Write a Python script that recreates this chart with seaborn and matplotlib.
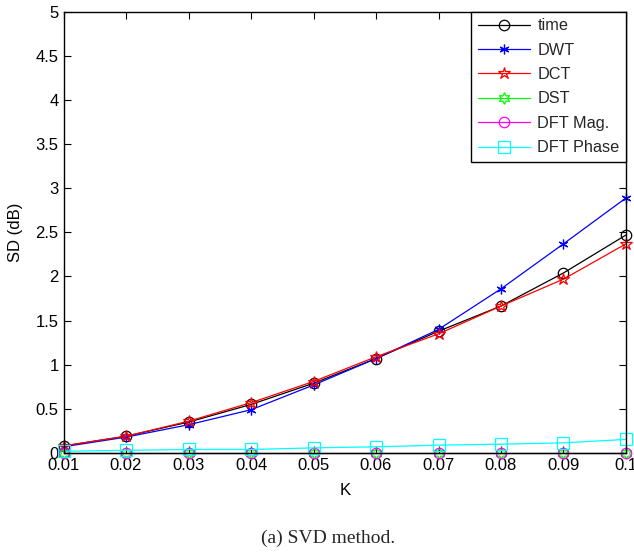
import numpy as np
import pandas as pd
import seaborn as sns
import matplotlib
matplotlib.use("Agg")
import matplotlib.pyplot as plt

sns.set_theme(style="white")
plt.rcParams['font.family'] = ['Liberation Sans', 'DejaVu Sans']

K = [0.01, 0.02, 0.03, 0.04, 0.05, 0.06, 0.07, 0.08, 0.09, 0.10]
time_sd = [0.08, 0.19, 0.35, 0.55, 0.79, 1.07, 1.38, 1.665, 2.04, 2.47]
dwt_sd = [0.07, 0.18, 0.32, 0.49, 0.77, 1.07, 1.40, 1.86, 2.37, 2.89]
dct_sd = [0.08, 0.19, 0.36, 0.57, 0.81, 1.09, 1.35, 1.665, 1.97, 2.37]
dst_sd = [0.005, 0.005, 0.005, 0.005, 0.005, 0.005, 0.005, 0.005, 0.005, 0.005]
dftmag_sd = [0.0, 0.0, 0.0, 0.0, 0.0, 0.0, 0.0, 0.0, 0.0, 0.0]
dftphase_sd = [0.02, 0.03, 0.04, 0.04, 0.058, 0.07, 0.089, 0.10, 0.115, 0.154]

series_names = ["time", "DWT", "DCT", "DST", "DFT Mag.", "DFT Phase"]
series_vals = [time_sd, dwt_sd, dct_sd, dst_sd, dftmag_sd, dftphase_sd]
colors = ["black", "#0000ff", "#ff0000", "#00ff00", "#ff00ff", "#00ffff"]
markers = ["o", (6, 2, 0), "*", (6, 1, 0), "o", "s"]
msizes = [7.5, 7, 9, 8.5, 7.5, 8]

fig = plt.figure(figsize=(6.34, 5.55), dpi=100)
ax = fig.add_axes([63.5/634, 1-453/555, (626-63.5)/634, (453-11.7)/555])

for name, vals, c, m, ms in zip(series_names, series_vals, colors, markers, msizes):
    df = pd.DataFrame({"K": K, "SD": vals})
    sns.lineplot(data=df, x="K", y="SD", ax=ax, color=c, marker=m, markersize=ms,
                 markerfacecolor="none", markeredgecolor=c, markeredgewidth=0.9,
                 linewidth=0.9, label=name, clip_on=False)

ax.set_xlim(0.01, 0.1)
ax.set_ylim(0, 5)
ax.set_xticks(K)
ax.set_xticklabels(["0.01", "0.02", "0.03", "0.04", "0.05", "0.06", "0.07", "0.08", "0.09", "0.1"])
ax.set_yticks([0, 0.5, 1, 1.5, 2, 2.5, 3, 3.5, 4, 4.5, 5])
ax.set_yticklabels(["0", "0.5", "1", "1.5", "2", "2.5", "3", "3.5", "4", "4.5", "5"])
ax.tick_params(direction="in", length=5, width=0.8, top=True, right=True,
               bottom=True, left=True, labelsize=12, colors="black", pad=3.5)
for s in ax.spines.values():
    s.set_color("black")
    s.set_linewidth(1.0)
ax.set_xlabel("K", fontsize=12, color="black", labelpad=7)
ax.set_ylabel("SD (dB)", fontsize=12, color="black", labelpad=9)

leg = ax.legend(loc="upper right", bbox_to_anchor=(1.0, 1.0), borderaxespad=0.0,
                fontsize=11.7, frameon=True, fancybox=False, edgecolor="black",
                framealpha=1, handlelength=3.2, borderpad=0.4, labelspacing=0.58,
                handletextpad=0.45)
leg.get_frame().set_linewidth(1.0)

fig.text(328/634, 1-538/555, "(a) SVD method.", ha="center", va="center",
         fontsize=14, family=["Liberation Serif", "DejaVu Serif"])

fig.savefig("out.png", dpi=100, facecolor="white")
